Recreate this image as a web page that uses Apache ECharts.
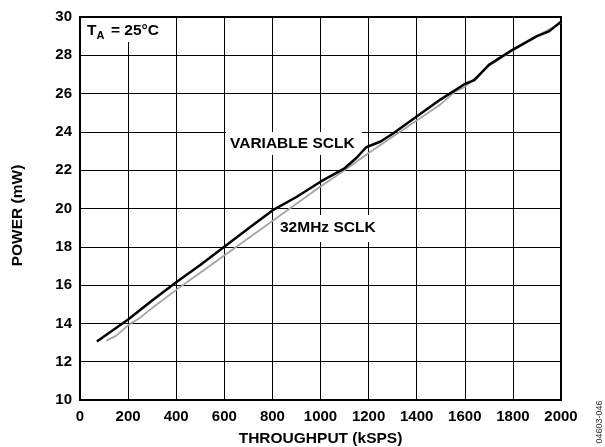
<!DOCTYPE html>
<html>
<head>
<meta charset="utf-8">
<script src="https://cdn.jsdelivr.net/npm/echarts@6/dist/echarts.min.js"></script>
<style>
  html, body { margin: 0; padding: 0; background: #fff; }
  #chart { width: 605px; height: 447px; }
</style>
</head>
<body>
<div id="chart"></div>
<script>
// throughput (kSPS) / power (mW)
const varThroughput = [70, 200, 300, 400, 500, 600, 700, 800, 900, 1000, 1100, 1150, 1190, 1250, 1300, 1400, 1500, 1600, 1640, 1700, 1800, 1900, 1950, 2000]
const varPower = [13.05, 14.2, 15.2, 16.15, 17.05, 18.0, 18.95, 19.9, 20.6, 21.4, 22.1, 22.65, 23.2, 23.5, 23.9, 24.8, 25.7, 26.5, 26.7, 27.5, 28.3, 29.0, 29.25, 29.75]

const fixThroughput = [110, 150, 200, 250, 300, 400, 500, 600, 700, 800, 900, 1000, 1100, 1200, 1300, 1400, 1500, 1560, 1600, 1700, 1800, 1900, 2000]
const fixPower = [13.1, 13.35, 13.9, 14.3, 14.8, 15.75, 16.65, 17.55, 18.45, 19.35, 20.25, 21.15, 22.0, 22.9, 23.75, 24.6, 25.45, 26.1, 26.35, 27.45, 28.25, 29.0, 29.7]

const xTicks = { min: 0, max: 2000, step: 200 }
const yTicks = { min: 10, max: 30, step: 2 }

const font = 'Liberation Sans, Arial, sans-serif'
const chart = echarts.init(document.getElementById('chart'))

const pairs = (xs, ys) => xs.map((x, i) => [x, ys[i]])

const option = {
  animation: false,
  grid: {
    left: 80, right: 44, top: 17, bottom: 47,
    outerBoundsMode: 'none',
    containLabel: false,
    show: true,
    borderColor: '#000',
    borderWidth: 2
  },
  xAxis: {
    type: 'value',
    min: xTicks.min, max: xTicks.max, interval: xTicks.step,
    name: 'THROUGHPUT (kSPS)',
    nameLocation: 'middle',
    nameGap: 31,
    nameTextStyle: { fontFamily: font, fontWeight: 'bold', fontSize: 15.5, color: '#000' },
    axisLine: { show: false },
    axisTick: { show: false },
    axisLabel: { fontFamily: font, fontWeight: 'bold', fontSize: 15, color: '#000', margin: 9, formatter: v => String(v) },
    splitLine: { lineStyle: { color: '#000', width: 1 } }
  },
  yAxis: {
    type: 'value',
    min: yTicks.min, max: yTicks.max, interval: yTicks.step,
    name: 'POWER (mW)',
    nameLocation: 'middle',
    nameGap: 54,
    nameTextStyle: { fontFamily: font, fontWeight: 'bold', fontSize: 15.5, color: '#000', padding: [0, 14, 0, 0] },
    axisLine: { show: false },
    axisTick: { show: false },
    axisLabel: { fontFamily: font, fontWeight: 'bold', fontSize: 15, color: '#000', margin: 8 },
    splitLine: { lineStyle: { color: '#000', width: 1 } }
  },
  series: [
    {
      name: '32MHz SCLK',
      type: 'line',
      showSymbol: false,
      lineStyle: { color: '#a4a4a4', width: 1.8 },
      data: pairs(fixThroughput, fixPower),
      z: 3
    },
    {
      name: 'VARIABLE SCLK',
      type: 'line',
      showSymbol: false,
      lineStyle: { color: '#000', width: 2.5 },
      data: pairs(varThroughput, varPower),
      z: 4
    }
  ],
  graphic: [
    // T_A box
    { type: 'rect', z: 1, shape: { x: 81, y: 18, width: 84, height: 24 }, style: { fill: '#fff' } },
    { type: 'text', z: 2, style: { x: 87, y: 23, text: 'T', font: 'bold 15.5px ' + font, fill: '#000' } },
    { type: 'text', z: 2, style: { x: 96.5, y: 30, text: 'A', font: 'bold 11px ' + font, fill: '#000' } },
    { type: 'text', z: 2, style: { x: 111, y: 23, text: '= 25°C', font: 'bold 15.5px ' + font, fill: '#000' } },
    // series labels
    { type: 'rect', z: 1, shape: { x: 226, y: 132, width: 136, height: 23 }, style: { fill: '#fff' } },
    { type: 'text', z: 2, style: { x: 230, y: 136, text: 'VARIABLE SCLK', font: 'bold 15.5px ' + font, fill: '#000' } },
    { type: 'rect', z: 1, shape: { x: 277, y: 215, width: 101, height: 27 }, style: { fill: '#fff' } },
    { type: 'text', z: 2, style: { x: 280, y: 220, text: '32MHz SCLK', font: 'bold 15.5px ' + font, fill: '#000' } },
    // figure number
    {
      type: 'text', z: 2, x: 600, y: 422, rotation: Math.PI / 2,
      style: { x: 0, y: 0, text: '04603-046', font: '9px ' + font, fill: '#333', align: 'center', verticalAlign: 'middle' }
    }
  ]
}

chart.setOption(option)
</script>
</body>
</html>
